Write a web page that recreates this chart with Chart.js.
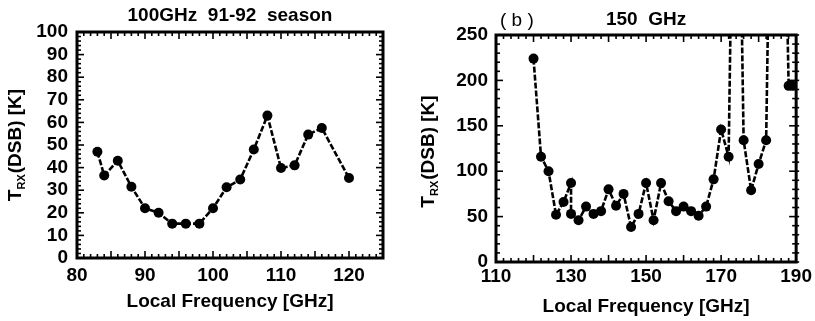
<!DOCTYPE html>
<html>
<head>
<meta charset="utf-8">
<script src="https://cdn.jsdelivr.net/npm/chart.js@4.4.1/dist/chart.umd.min.js"></script>
<style>
  html, body { margin: 0; padding: 0; background: #fff; }
  #wrap { position: relative; width: 815px; height: 321px; }
  canvas { position: absolute; top: 0; }
  #c100 { left: 0; }
  #c150 { left: 407px; }
</style>
</head>
<body>
<div id="wrap">
  <canvas id="c100" width="407" height="321"></canvas>
  <canvas id="c150" width="408" height="321"></canvas>
</div>
<script>
/* ── data ──────────────────────────────────────────────────────────────── */
const freq100 = [83, 84, 86, 88, 90, 92, 94, 96, 98, 100, 102, 104, 106, 108, 110, 112, 114, 116, 120];
const trx100  = [47, 36.5, 43, 31.5, 22, 20, 15.2, 15.2, 15.2, 22, 31.3, 34.7, 48, 63, 39.8, 41, 54.6, 57.5, 35.4];

// values above 250 K run off the top of the panel
const freq150 = [120, 122, 124, 126, 128, 130, 130, 132, 134, 136, 138, 140, 142, 144, 146, 148, 150, 152,
                 154, 156, 158, 160, 162, 164, 166, 168, 170, 172, 173, 175, 176, 178, 180, 182, 183, 187, 188, 189];
const trx150  = [224, 116, 100, 52, 66, 87, 53, 46, 61, 53, 56, 80, 62, 75, 38.5, 53, 87, 46,
                 87, 67, 56, 61, 56, 51, 61, 91, 146, 116, 400, 400, 134, 79, 108, 134, 400, 400, 194, 194];

const xTicks100 = [80, 125, 10];   // min, max, label step
const yTicks100 = [0, 100, 10];
const xTicks150 = [110, 190, 20];
const yTicks150 = [0, 250, 50];

const FONT = '"Liberation Sans", Arial, sans-serif';
Chart.defaults.font.family = FONT;
Chart.defaults.color = '#000';

// ── frame + inward minor/major ticks on all four sides ──────────────────────
const frameTicks = {
  id: 'frameTicks',
  afterDraw(chart, args, o) {
    const { ctx, chartArea: a, scales: { x, y } } = chart;
    ctx.save();
    ctx.strokeStyle = '#000';
    ctx.lineWidth = 1.6;
    const seg = (x1, y1, x2, y2) => { ctx.beginPath(); ctx.moveTo(x1, y1); ctx.lineTo(x2, y2); ctx.stroke(); };
    const nx = Math.round((x.max - x.min) / o.xMinor);
    for (let i = 0; i <= nx; i++) {
      const v = x.min + i * o.xMinor;
      const px = x.getPixelForValue(v);
      const len = Math.abs(v / o.xMajor - Math.round(v / o.xMajor)) < 1e-6 ? 7 : 4;
      seg(px, a.bottom, px, a.bottom - len);
      seg(px, a.top, px, a.top + len);
    }
    const ny = Math.round((y.max - y.min) / o.yMinor);
    for (let i = 0; i <= ny; i++) {
      const v = y.min + i * o.yMinor;
      const py = y.getPixelForValue(v);
      const len = Math.abs(v / o.yMajor - Math.round(v / o.yMajor)) < 1e-6 ? 7 : 4;
      seg(a.left, py, a.left + len, py);
      seg(a.right, py, a.right - len, py);
      if (o.outerRight) seg(a.right, py, a.right + 3, py);
    }
    ctx.lineWidth = 3;
    ctx.strokeRect(a.left, a.top, a.right - a.left, a.bottom - a.top);
    ctx.restore();
  }
};

// ── rotated y title with the RX subscript, plus the panel tag ──────────────
const yTitle = {
  id: 'yTitle',
  afterDraw(chart, args, o) {
    const ctx = chart.ctx;
    const a = chart.chartArea;
    ctx.save();
    ctx.fillStyle = '#000';
    ctx.translate(o.x, (a.top + a.bottom) / 2 + o.dy);
    ctx.rotate(-Math.PI / 2);
    const big = 'bold 19px ' + FONT, small = 'bold 11px ' + FONT;
    ctx.font = big;
    const wT = ctx.measureText('T').width, wRest = ctx.measureText('(DSB) [K]').width;
    ctx.font = small;
    const wSub = ctx.measureText('RX').width;
    let cx = -(wT + wSub + 1 + wRest) / 2;
    ctx.textBaseline = 'middle';
    ctx.font = big;  ctx.fillText('T', cx, 0); cx += wT;
    ctx.font = small; ctx.fillText('RX', cx, 6); cx += wSub + 1;
    ctx.font = big;  ctx.fillText('(DSB) [K]', cx, 0);
    ctx.restore();
    if (o.tag) {
      ctx.save();
      ctx.font = '19px ' + FONT;
      ctx.textBaseline = 'middle';
      ctx.fillStyle = '#000';
      ctx.fillText(o.tag, a.left + 4, 21);
      ctx.restore();
    }
  }
};

function makePanel(id, freqs, vals, xt, yt, cfg) {
  return new Chart(document.getElementById(id), {
    type: 'line',
    data: {
      datasets: [{
        data: freqs.map((f, i) => ({ x: f, y: vals[i] })),
        borderColor: '#000',
        borderWidth: 2.6,
        borderDash: [6, 2],
        pointRadius: 5,
        pointBackgroundColor: '#000',
        pointBorderWidth: 0,
        tension: 0
      }]
    },
    options: {
      responsive: false,
      animation: false,
      events: [],
      layout: { padding: { left: 0, right: cfg.padRight, top: 0, bottom: 0 } },
      plugins: {
        legend: { display: false },
        tooltip: { enabled: false },
        title: {
          display: true,
          text: cfg.title,
          fullSize: false,
          font: { size: 19, weight: 'bold' },
          padding: { top: cfg.titleTop, bottom: cfg.titleBottom }
        },
        frameTicks: cfg.ticks,
        yTitle: { x: cfg.yTitleX, dy: cfg.yTitleDy, tag: cfg.tag }
      },
      scales: {
        x: {
          type: 'linear',
          min: xt[0], max: xt[1],
          grid: { display: false, drawTicks: false },
          border: { display: false },
          ticks: { stepSize: xt[2], includeBounds: false, autoSkip: false, padding: cfg.xTickPad, maxRotation: 0,
                   font: { size: 19, weight: 'bold' } },
          title: { display: true, text: 'Local Frequency [GHz]', font: { size: 19, weight: 'bold' },
                   padding: { top: 0, bottom: cfg.xTitlePad } },
          afterFit: s => { s.height = cfg.xHeight; }
        },
        y: {
          min: yt[0], max: yt[1],
          grid: { display: false, drawTicks: false },
          border: { display: false },
          ticks: { stepSize: yt[2], autoSkip: false, padding: cfg.yTickPad, font: { size: 19, weight: 'bold' } },
          afterFit: s => { s.width = cfg.yWidth; }
        }
      }
    },
    plugins: [frameTicks, yTitle]
  });
}

makePanel('c100', freq100, trx100, xTicks100, yTicks100, {
  title: '100GHz  91-92  season', titleTop: 4.6, titleBottom: 4.6,
  padRight: 24, yWidth: 77, xHeight: 63, xTickPad: 6, xTitlePad: 8, yTickPad: 9,
  yTitleX: 15.5, yTitleDy: 0, tag: null,
  ticks: { xMinor: 1, xMajor: 5, yMinor: 2, yMajor: 10 }
});

makePanel('c150', freq150, trx150, xTicks150, yTicks150, {
  title: '150  GHz', titleTop: 8.6, titleBottom: 3.6,
  padRight: 15, yWidth: 89, xHeight: 59, xTickPad: 3, xTitlePad: 2.5, yTickPad: 8,
  yTitleX: 22, yTitleDy: 3, tag: '( b )',
  ticks: { xMinor: 2, xMajor: 10, yMinor: 10, yMajor: 50, outerRight: true }
});
</script>
</body>
</html>
